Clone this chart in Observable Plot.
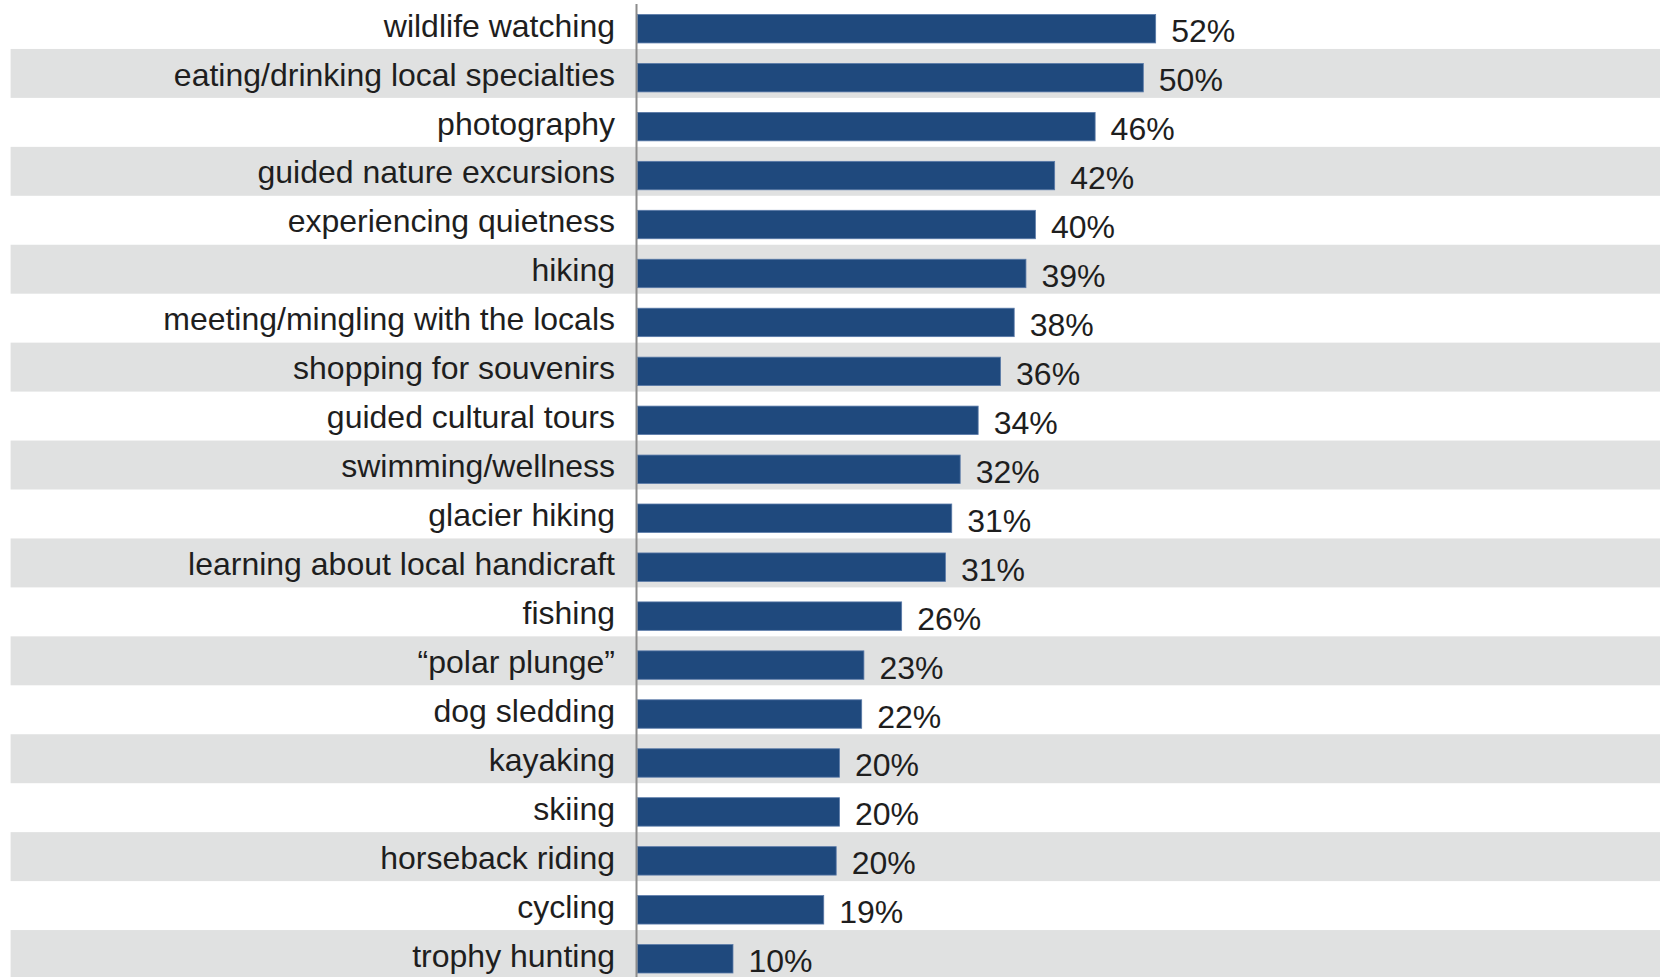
<!DOCTYPE html>
<html>
<head>
<meta charset="utf-8">
<script src="https://cdn.jsdelivr.net/npm/d3@7"></script>
<script src="https://cdn.jsdelivr.net/npm/@observablehq/plot@0.6"></script>
<style>
  html, body { margin: 0; padding: 0; background: #fff; }
  #chart svg { display: block; }
</style>
</head>
<body>
<div id="chart"></div>
<script>
const categories = [
  "wildlife watching",
  "eating/drinking local specialties",
  "photography",
  "guided nature excursions",
  "experiencing quietness",
  "hiking",
  "meeting/mingling with the locals",
  "shopping for souvenirs",
  "guided cultural tours",
  "swimming/wellness",
  "glacier hiking",
  "learning about local handicraft",
  "fishing",
  "\u201cpolar plunge\u201d",
  "dog sledding",
  "kayaking",
  "skiing",
  "horseback riding",
  "cycling",
  "trophy hunting"
];
const values = [51.61, 50.38, 45.58, 41.55, 39.63, 38.69, 37.52, 36.16, 33.93, 32.14,
                31.3, 30.67, 26.31, 22.55, 22.33, 20.12, 20.12, 19.79, 18.55, 9.51];

const rows = categories.map((c, i) => ({category: c, value: values[i], i}));
const stripes = rows.filter(d => d.i % 2 === 1);

const font = "'Liberation Sans', Arial, Helvetica, sans-serif";

const chart = Plot.plot({
  width: 1660,
  height: 977,
  marginLeft: 10.6,
  marginRight: 0,
  marginTop: 4,
  marginBottom: 0,
  style: {fontFamily: font, background: "#fff"},
  x: {domain: [0, 100], range: [637.5, 1641.5], axis: null},
  y: {domain: categories, range: [0, 979], padding: 0, round: false, axis: null},
  marks: [
    Plot.cell(stripes, {y: "category", fill: "#e0e1e1"}),
    Plot.barX(rows, {
      x: "value", y: "category",
      fill: "#1f497d", stroke: "#5a7aa8", strokeWidth: 0.8,
      insetTop: 14.5, insetBottom: 6
    }),
    Plot.ruleX([0], {stroke: "#8c8c8c", strokeWidth: 2, dx: -1.5}),
    Plot.text(rows, {
      x: d => 0, y: "category", text: "category",
      textAnchor: "end", dx: -23, dy: 1.4,
      fontSize: 32, fill: "#1e1e1e"
    }),
    Plot.text(rows, {
      x: "value", y: "category", text: d => Math.round(d.value) + "%",
      textAnchor: "start", dx: 15, dy: 7,
      fontSize: 32, fill: "#1e1e1e"
    })
  ]
});
document.getElementById("chart").appendChild(chart);
</script>
</body>
</html>
